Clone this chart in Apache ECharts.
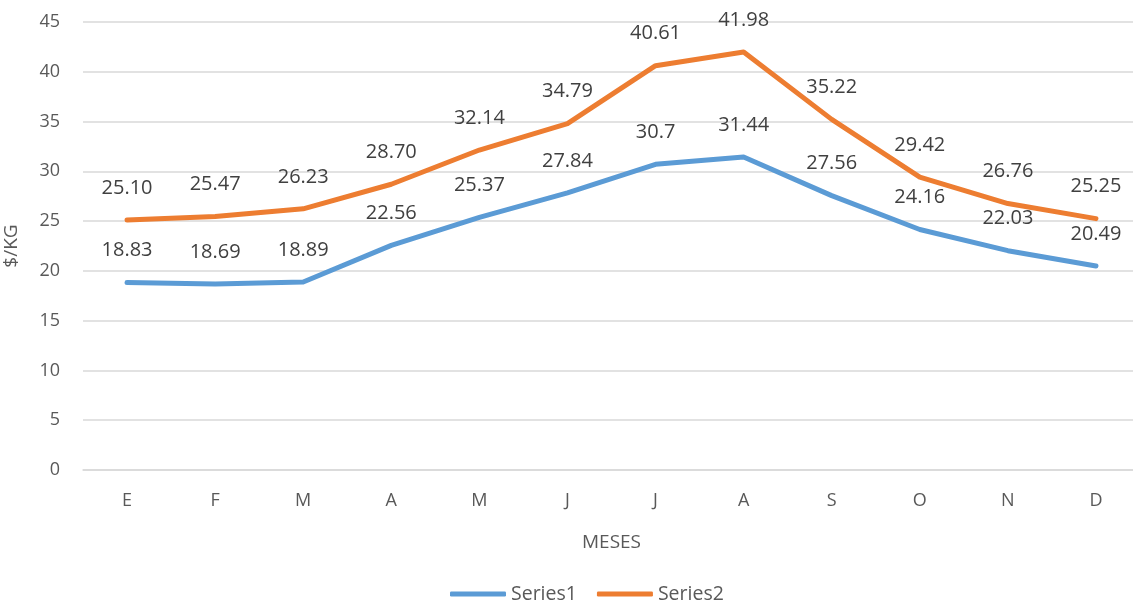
<!DOCTYPE html>
<html>
  <head>
    <meta charset="UTF-8" />
    <title></title>
    <style type="text/css">
      html,
      body {
        width: 100%;
        height: 100%;
        margin: 0;
        padding: 0;
        overflow: hidden;
        background: #fff;
      }
      #chart {
        width: 1133px;
        height: 601px;
      }
    </style>
  </head>
  <body>
    <div id="chart"></div>
    <script src="https://cdn.jsdelivr.net/npm/echarts@6/dist/echarts.min.js"></script>
    <script type="text/javascript">
      const months = ["E", "F", "M", "A", "M", "J", "J", "A", "S", "O", "N", "D"];
      const series1 = [18.83, 18.69, 18.89, 22.56, 25.37, 27.84, 30.7, 31.44, 27.56, 24.16, 22.03, 20.49];
      const series2 = [25.10, 25.47, 26.23, 28.70, 32.14, 34.79, 40.61, 41.98, 35.22, 29.42, 26.76, 25.25];
      const labels1 = ["18.83", "18.69", "18.89", "22.56", "25.37", "27.84", "30.7", "31.44", "27.56", "24.16", "22.03", "20.49"];
      const labels2 = ["25.10", "25.47", "26.23", "28.70", "32.14", "34.79", "40.61", "41.98", "35.22", "29.42", "26.76", "25.25"];

      const font = "'Open Sans', 'Liberation Sans', sans-serif";
      const txt = "#595959";

      const mkSeries = function (name, values, labels, color) {
        return {
          name: name,
          type: "line",
          data: values,
          symbol: "circle",
          symbolSize: 0,
          showSymbol: true,
          lineStyle: { color: color, width: 5, cap: "round", join: "round" },
          itemStyle: { color: color },
          label: {
            show: true,
            position: "top",
            distance: 22,
            fontFamily: font,
            fontSize: 20,
            color: "#404040",
            formatter: (p) => labels[p.dataIndex],
          },
        };
      };

      const chart = echarts.init(document.getElementById("chart"));
      chart.setOption({
        backgroundColor: "#fff",
        animation: false,
        textStyle: { fontFamily: font },
        grid: { left: 83, top: 22, width: 1057, height: 448, outerBoundsMode: "none", containLabel: false },
        legend: {
          top: 579,
          left: 445,
          icon: "roundRect",
          itemWidth: 56,
          itemHeight: 5,
          itemGap: 20,
          textStyle: { fontFamily: font, fontSize: 19.5, color: txt },
          data: ["Series1", "Series2"],
        },
        xAxis: {
          type: "category",
          data: months,
          boundaryGap: true,
          name: "MESES",
          nameLocation: "middle",
          nameGap: 63,
          nameTextStyle: { fontFamily: font, fontSize: 19, color: txt },
          axisLine: { lineStyle: { color: "#d9d9d9", width: 1.5 } },
          axisTick: { show: false },
          axisLabel: { fontFamily: font, fontSize: 18, color: txt, margin: 22 },
        },
        yAxis: {
          type: "value",
          min: 0,
          max: 45,
          interval: 5,
          name: "$/KG",
          nameLocation: "middle",
          nameGap: 62,
          nameTextStyle: { fontFamily: font, fontSize: 19, color: txt },
          axisLine: { show: false },
          axisTick: { show: false },
          axisLabel: { fontFamily: font, fontSize: 18, color: txt, margin: 23 },
          splitLine: { lineStyle: { color: "#d9d9d9", width: 1.5 } },
        },
        series: [
          mkSeries("Series1", series1, labels1, "#5B9BD5"),
          mkSeries("Series2", series2, labels2, "#ED7D31"),
        ],
      });
    </script>
  </body>
</html>
